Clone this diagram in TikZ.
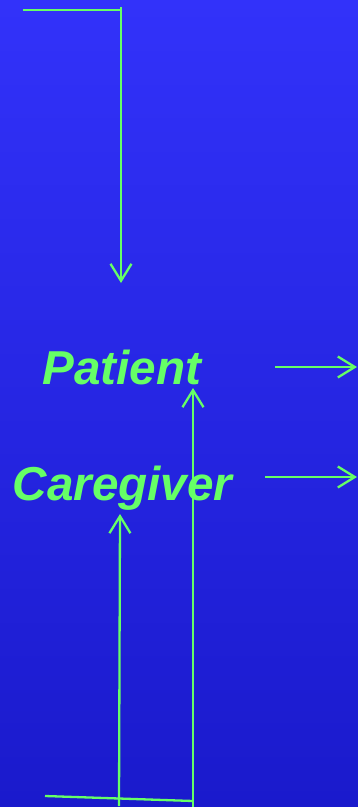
\documentclass[tikz,border=0pt]{standalone}
\usepackage{fontspec}
\setmainfont{Liberation Sans}
\usetikzlibrary{arrows.meta}
\definecolor{bgtop}{RGB}{50,50,250}
\definecolor{bgbot}{RGB}{26,26,204}
\definecolor{lgreen}{RGB}{102,255,102}
\begin{document}
\begin{tikzpicture}[x=1pt,y=-1pt,
  conn/.style={draw=lgreen,line width=2.3pt},
  arr/.style={conn,-{Straight Barb[length=17pt,width=21pt,line width=2.3pt]}},
  lbl/.style={text=lgreen,font=\fontsize{47.6}{50}\selectfont\bfseries\itshape,inner sep=0pt,anchor=base west}]
\shade[top color=bgtop,bottom color=bgbot] (0,0) rectangle (358,807);
\useasboundingbox (0,0) rectangle (358,807);
\node[lbl] (patient) at (42.5,384) {Patient};
\node[lbl] (caregiver) at (12.5,500) {Caregiver};
% top feed
\coordinate (t0) at (23,10);
\coordinate (t1) at (121,10);
\coordinate (ttip) at (121,283);
\draw[conn] (t0) -- (t1);
\draw[arr] (121,7) -- (ttip);
% right outputs
\coordinate (p0) at (275,367);
\coordinate (p1) at (357,367);
\coordinate (c0) at (265,477);
\coordinate (c1) at (357,477);
\draw[arr] (p0) -- (p1);
\draw[arr] (c0) -- (c1);
% bottom feed
\coordinate (b0) at (45,796);
\coordinate (b1) at (193,801);
\draw[conn] (b0) -- (b1);
\coordinate (v1b) at (119,806);
\coordinate (v1t) at (120,514);
\draw[arr] (v1b) -- (v1t);
\coordinate (v2b) at (193,807);
\coordinate (v2t) at (193,388);
\draw[arr] (v2b) -- (v2t);
\end{tikzpicture}
\end{document}
